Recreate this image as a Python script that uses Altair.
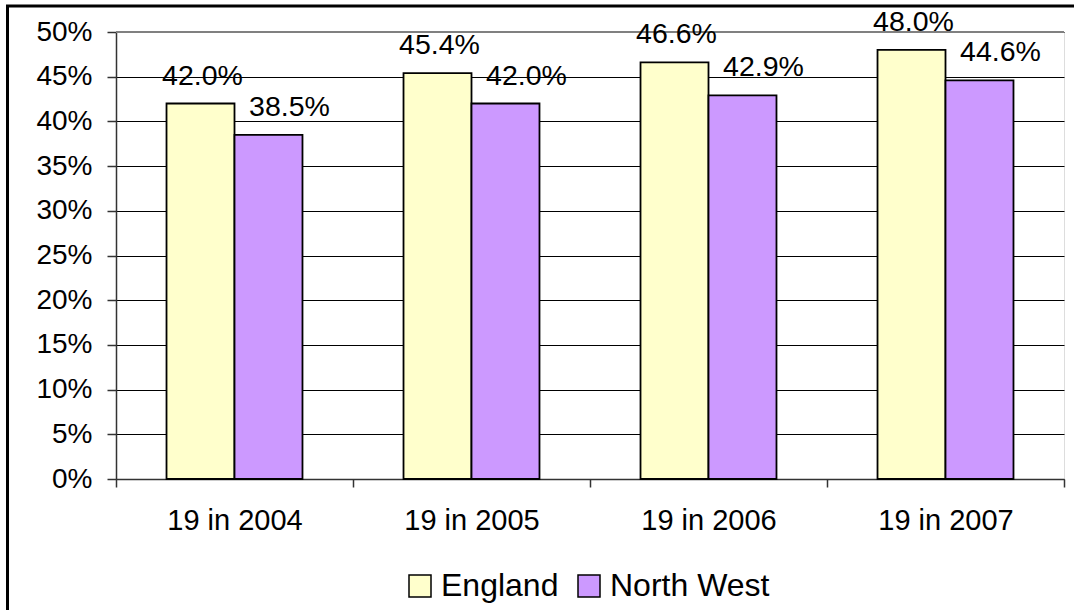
import altair as alt
import pandas as pd

categories = ["19 in 2004", "19 in 2005", "19 in 2006", "19 in 2007"]
series = ["England", "North West"]
england = [42.0, 45.4, 46.6, 48.0]
north_west = [38.5, 42.0, 42.9, 44.6]
colors = ["#FFFFCC", "#CC99FF"]
y_ticks = [0, 0.05, 0.10, 0.15, 0.20, 0.25, 0.30, 0.35, 0.40, 0.45, 0.50]

rows = []
for c, e, n in zip(categories, england, north_west):
    rows.append({"cat": c, "series": "England", "value": e / 100})
    rows.append({"cat": c, "series": "North West", "value": n / 100})
df = pd.DataFrame(rows)

FONT = "Liberation Sans"
W, H = 948, 447

x = alt.X(
    "cat:N", sort=categories, title=None,
    scale=alt.Scale(paddingInner=0, paddingOuter=0),
    axis=alt.Axis(labelAngle=0, tickBand="extent", labelFontSize=29, labelColor="black",
                  domainColor="#333333", tickColor="#333333", tickSize=8, labelPadding=19,
                  domainWidth=1.5, tickWidth=1.5, grid=False, labelFont=FONT),
)
xo = alt.XOffset("series:N", sort=series, scale=alt.Scale(paddingInner=0, paddingOuter=0.743))
y = alt.Y(
    "value:Q", title=None,
    scale=alt.Scale(domain=[0, 0.5], nice=False),
    axis=alt.Axis(values=y_ticks, format=".0%", labelFontSize=28, labelColor="black",
                  domainColor="#333333", tickColor="#333333", tickSize=9, labelPadding=15,
                  domainWidth=1.5, tickWidth=1.5, grid=True, gridColor="black", gridWidth=1,
                  labelFont=FONT),
)
color = alt.Color(
    "series:N", sort=series,
    scale=alt.Scale(domain=series, range=colors),
    legend=alt.Legend(title=None, orient="none", direction="horizontal", legendX=288, legendY=538,
                      symbolType="square", symbolSize=484, symbolStrokeColor="black",
                      symbolStrokeWidth=1.5, labelFontSize=32, labelColor="black", labelFont=FONT,
                      labelOffset=5, columnPadding=14, padding=0),
)

bars = alt.Chart(df).mark_bar(stroke="black", strokeWidth=1.8).encode(x=x, xOffset=xo, y=y, color=color)

text_e = alt.Chart(df).transform_filter("datum.series == 'England'").mark_text(
    dy=-28, dx=2, fontSize=28.5, baseline="middle", font=FONT, color="black"
).encode(x=x, xOffset=xo, y=y, text=alt.Text("value:Q", format=".1%"))

text_n = alt.Chart(df).transform_filter("datum.series == 'North West'").mark_text(
    dy=-28, dx=21, fontSize=28.5, baseline="middle", font=FONT, color="black"
).encode(x=x, xOffset=xo, y=y, text=alt.Text("value:Q", format=".1%"))

one = alt.Data(values=[{}])
top_border = alt.Chart(one).mark_rule(color="#808080", strokeWidth=2).encode(
    x=alt.value(0), x2=alt.value(W), y=alt.value(0))
frame_left = alt.Chart(one).mark_rule(color="black", strokeWidth=3).encode(
    x=alt.value(-108.5), y=alt.value(-26), y2=alt.value(640))
frame_top = alt.Chart(one).mark_rule(color="black", strokeWidth=3).encode(
    x=alt.value(-110), x2=alt.value(980), y=alt.value(-26))

chart = alt.layer(bars, top_border, text_e, text_n, frame_left, frame_top).properties(
    width=W, height=H,
    autosize=alt.AutoSizeParams(type="none"),
    padding={"left": 116, "top": 32, "right": 10, "bottom": 131},
    background="white",
).configure_view(stroke="#808080", strokeWidth=1.5).configure(font=FONT)

chart.save("out.html", embed_options={"renderer": "svg", "actions": False})
